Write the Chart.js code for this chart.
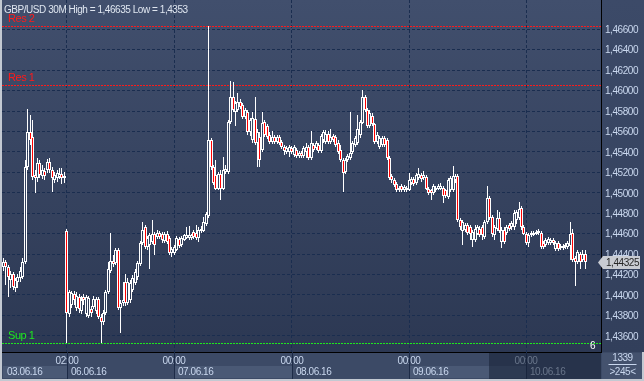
<!DOCTYPE html>
<html>
<head>
<meta charset="utf-8">
<script src="https://cdn.jsdelivr.net/npm/chart.js@4.4.1/dist/chart.umd.min.js"></script>
<style>
html,body{margin:0;padding:0;background:#3c4a66;overflow:hidden;}
canvas{display:block;}
</style>
</head>
<body>
<canvas id="c" width="644" height="381"></canvas>
<script>
// ---------------- DATA ----------------
const titleText = 'GBP/USD 30M High = 1,46635 Low = 1,4353';
const days      = ['03.06.16','06.06.16','07.06.16','08.06.16','09.06.16','10.06.16'];
const dayStart  = ['11:00','02:00','00:00','00:00','00:00','00:00'];
const dayCount  = [26, 44, 48, 48, 48, 25];
const emptySlots = 6;
const barsInfo = '1339';
const shiftInfo = '6';
const yTicks = [1.436,1.438,1.440,1.442,1.444,1.446,1.448,1.450,1.452,1.454,1.456,1.458,1.460,1.462,1.464,1.466];
const res2 = 1.46635, res1 = 1.4605, sup1 = 1.4353;
const lastPrice = 1.44325;

const open = [
1.4427,1.4432,1.4427,1.4415,1.4420,1.4407,1.4413,1.4417,1.4418,1.4432,1.4525,1.4559,1.4555,1.4517,1.4514,1.4529,1.4516,1.4521,1.4522,1.4530,1.4522,1.4512,1.4514,1.4515,1.4518,1.4516,
1.4463,1.4381,1.4390,1.4401,1.4387,1.4398,1.4384,1.4398,1.4381,1.4379,1.4386,1.4388,1.4384,1.4396,1.4378,1.4373,1.4382,1.4403,1.4423,1.4433,1.4431,1.4444,1.4387,1.4392,1.4413,1.4392,1.4395,1.4405,1.4412,1.4418,1.4430,1.4451,1.4466,1.4447,1.4449,1.4452,1.4460,1.4457,1.4461,1.4460,1.4453,1.4460,1.4456,1.4441,
1.4441,1.4444,1.4455,1.4449,1.4454,1.4456,1.4456,1.4456,1.4462,1.4461,1.4456,1.4463,1.4463,1.4469,1.4477,1.4552,1.4525,1.4517,1.4504,1.4518,1.4504,1.4520,1.4520,1.4569,1.4594,1.4579,1.4581,1.4589,1.4586,1.4574,1.4579,1.4559,1.4552,1.4572,1.4549,1.4555,1.4542,1.4569,1.4565,1.4557,1.4550,1.4555,1.4550,1.4555,1.4550,1.4545,1.4540,1.4540,
1.4544,1.4537,1.4542,1.4536,1.4539,1.4536,1.4540,1.4545,1.4534,1.4547,1.4544,1.4547,1.4541,1.4552,1.4550,1.4558,1.4550,1.4556,1.4555,1.4549,1.4542,1.4532,1.4520,1.4532,1.4534,1.4540,1.4547,1.4549,1.4557,1.4568,1.4594,1.4581,1.4565,1.4575,1.4567,1.4550,1.4545,1.4547,1.4554,1.4552,1.4534,1.4516,1.4512,1.4509,1.4503,1.4507,1.4503,1.4503,
1.4503,1.4510,1.4513,1.4510,1.4514,1.4517,1.4514,1.4515,1.4504,1.4503,1.4500,1.4503,1.4504,1.4504,1.4505,1.4503,1.4496,1.4503,1.4503,1.4512,1.4516,1.4473,1.4463,1.4464,1.4468,1.4466,1.4454,1.4454,1.4460,1.4465,1.4466,1.4457,1.4471,1.4495,1.4476,1.4459,1.4465,1.4475,1.4452,1.4464,1.4461,1.4468,1.4466,1.4466,1.4473,1.4475,1.4485,1.4466,
1.4460,1.4451,1.4459,1.4461,1.4460,1.4461,1.4461,1.4451,1.4449,1.4451,1.4451,1.4454,1.4445,1.4451,1.4446,1.4448,1.4447,1.4447,1.4448,1.4461,1.4436,1.4432,1.4440,1.4434,1.4440
];
const high = [
1.4436,1.4434,1.4429,1.4423,1.4422,1.4417,1.4420,1.4427,1.4436,1.4532,1.4582,1.4576,1.4571,1.4522,1.4534,1.4532,1.4527,1.4524,1.4533,1.4534,1.4525,1.4520,1.4522,1.4524,1.4524,1.4520,
1.4465,1.4405,1.4404,1.4404,1.4403,1.4401,1.4399,1.4401,1.4400,1.4399,1.4389,1.4399,1.4398,1.4398,1.4381,1.4385,1.4405,1.4432,1.4461,1.4439,1.4446,1.4446,1.4395,1.4413,1.4420,1.4417,1.4415,1.4419,1.4425,1.4433,1.4453,1.4471,1.4468,1.4458,1.4461,1.4473,1.4462,1.4464,1.4463,1.4462,1.4462,1.4463,1.4458,1.4447,
1.4449,1.4458,1.4457,1.4458,1.4460,1.4466,1.4467,1.4460,1.4464,1.4468,1.4466,1.4467,1.4476,1.4481,1.46635,1.4554,1.4527,1.4532,1.4520,1.4522,1.4535,1.4527,1.4571,1.4609,1.4608,1.4590,1.4598,1.4592,1.4588,1.4583,1.4581,1.4573,1.4579,1.4594,1.4562,1.4559,1.4579,1.4571,1.4567,1.4559,1.4560,1.4557,1.4557,1.4557,1.4552,1.4547,1.4546,1.4547,
1.4546,1.4547,1.4544,1.4541,1.4541,1.4546,1.4549,1.4547,1.4560,1.4549,1.4551,1.4549,1.4558,1.4561,1.4561,1.4560,1.4562,1.4558,1.4557,1.4552,1.4547,1.4534,1.4534,1.4538,1.4579,1.4551,1.4556,1.4576,1.4571,1.4601,1.4596,1.4583,1.4581,1.4578,1.4568,1.4559,1.4556,1.4556,1.4556,1.4554,1.4536,1.4518,1.4514,1.4511,1.4507,1.4509,1.4508,1.4507,
1.4519,1.4515,1.4515,1.4519,1.4524,1.4519,1.4521,1.4517,1.4506,1.4504,1.4509,1.4507,1.4509,1.4510,1.4507,1.4504,1.4514,1.4516,1.4526,1.4518,1.4518,1.4475,1.4473,1.4470,1.4470,1.4468,1.4464,1.4468,1.4468,1.4467,1.4468,1.4473,1.4507,1.4497,1.4478,1.4468,1.4483,1.4481,1.4466,1.4466,1.4468,1.4470,1.4472,1.4483,1.4483,1.4491,1.4487,1.4468,
1.4462,1.4461,1.4463,1.4463,1.4464,1.4465,1.4463,1.4453,1.4456,1.4457,1.4456,1.4456,1.4453,1.4453,1.4450,1.4450,1.4451,1.4453,1.4471,1.4465,1.4438,1.4444,1.4442,1.4444,1.4444
];
const low = [
1.4423,1.4410,1.4398,1.4407,1.4405,1.4403,1.4407,1.4413,1.4416,1.4430,1.4522,1.4547,1.4512,1.4500,1.4511,1.4514,1.4513,1.4512,1.4519,1.4519,1.4501,1.4510,1.4511,1.4513,1.4509,1.4510,
1.4353,1.4378,1.4387,1.4390,1.4384,1.4382,1.4381,1.4390,1.4378,1.4377,1.4378,1.4386,1.4381,1.4376,1.4353,1.4371,1.4380,1.4401,1.4421,1.4427,1.4429,1.4385,1.4363,1.4389,1.4389,1.4390,1.4392,1.4403,1.4410,1.4415,1.4428,1.4449,1.4445,1.4444,1.4425,1.4450,1.4439,1.4455,1.4455,1.4451,1.4451,1.4450,1.4439,1.4437,
1.4439,1.4443,1.4446,1.4447,1.4453,1.4455,1.4454,1.4454,1.4455,1.4454,1.4452,1.4461,1.4462,1.4467,1.4475,1.4522,1.4508,1.4503,1.4503,1.4493,1.4503,1.4518,1.4518,1.4567,1.4579,1.4565,1.4579,1.4582,1.4572,1.4572,1.4557,1.4556,1.4549,1.4547,1.4525,1.4525,1.4540,1.4555,1.4553,1.4548,1.4548,1.4548,1.4548,1.4547,1.4543,1.4537,1.4538,1.4535,
1.4538,1.4535,1.4534,1.4534,1.4534,1.4534,1.4534,1.4532,1.4532,1.4540,1.4542,1.4539,1.4539,1.4549,1.4548,1.4548,1.4548,1.4550,1.4545,1.4538,1.4530,1.4501,1.4518,1.4530,1.4532,1.4538,1.4545,1.4547,1.4554,1.4567,1.4579,1.4563,1.4563,1.4565,1.4548,1.4548,1.4543,1.4545,1.4545,1.4532,1.4512,1.4510,1.4506,1.4501,1.4501,1.4501,1.4501,1.4501,
1.4502,1.4508,1.4507,1.4508,1.4512,1.4511,1.4512,1.4503,1.4498,1.4493,1.4498,1.4501,1.4503,1.4503,1.4490,1.4495,1.4494,1.4501,1.4501,1.4510,1.4471,1.4464,1.4449,1.4462,1.4459,1.4454,1.4447,1.4452,1.4459,1.4457,1.4454,1.4455,1.4469,1.4473,1.4457,1.4454,1.4463,1.4461,1.4446,1.4450,1.4459,1.4463,1.4464,1.4464,1.4469,1.4473,1.4464,1.4459,
1.4449,1.4447,1.4457,1.4458,1.4459,1.4459,1.4445,1.4445,1.4447,1.4449,1.4449,1.4449,1.4443,1.4443,1.4444,1.4444,1.4445,1.4445,1.4434,1.4432,1.4409,1.4430,1.4425,1.4432,1.4425
];
const close = [
1.4432,1.4427,1.4418,1.4420,1.4408,1.4415,1.4418,1.4423,1.4432,1.4525,1.4559,1.4552,1.4515,1.4514,1.4529,1.4517,1.4522,1.4516,1.4530,1.4522,1.4514,1.4517,1.4519,1.4518,1.4514,1.4514,
1.4382,1.4403,1.4402,1.4395,1.4399,1.4386,1.4395,1.4395,1.4398,1.4397,1.4382,1.4396,1.4396,1.4378,1.4373,1.4382,1.4403,1.4425,1.4433,1.4430,1.4444,1.4387,1.4392,1.4395,1.4392,1.4413,1.4412,1.4417,1.4422,1.4431,1.4451,1.4464,1.4447,1.4456,1.4459,1.4460,1.4449,1.4461,1.4457,1.4454,1.4460,1.4452,1.4441,1.4445,
1.4447,1.4456,1.4448,1.4456,1.4459,1.4459,1.4459,1.4459,1.4457,1.4456,1.4464,1.4465,1.4471,1.4479,1.4552,1.4525,1.4510,1.4504,1.4518,1.4504,1.4522,1.4523,1.4569,1.4594,1.4581,1.4588,1.4589,1.4584,1.4574,1.4581,1.4559,1.4571,1.4573,1.4549,1.4559,1.4532,1.4568,1.4557,1.4555,1.4550,1.4555,1.4550,1.4555,1.4549,1.4545,1.4541,1.4544,1.4545,
1.4540,1.4545,1.4536,1.4539,1.4536,1.4544,1.4545,1.4534,1.4549,1.4542,1.4549,1.4541,1.4556,1.4559,1.4558,1.4550,1.4555,1.4552,1.4547,1.4540,1.4532,1.4519,1.4532,1.4536,1.4539,1.4549,1.4554,1.4562,1.4569,1.4594,1.4581,1.4565,1.4578,1.4567,1.4550,1.4557,1.4554,1.4554,1.4547,1.4534,1.4514,1.4512,1.4508,1.4503,1.4505,1.4503,1.4506,1.4505,
1.4512,1.4513,1.4509,1.4517,1.4518,1.4513,1.4517,1.4504,1.4500,1.4500,1.4507,1.4505,1.4507,1.4507,1.4497,1.4497,1.4512,1.4514,1.4516,1.4516,1.4473,1.4466,1.4471,1.4468,1.4461,1.4460,1.4462,1.4465,1.4466,1.4459,1.4459,1.4471,1.4495,1.4475,1.4460,1.4466,1.4475,1.4463,1.4464,1.4452,1.4466,1.4465,1.4470,1.4480,1.4481,1.4484,1.4466,1.4460,
1.4451,1.4459,1.4461,1.4459,1.4462,1.4463,1.4447,1.4447,1.4454,1.4455,1.4454,1.4451,1.4451,1.4445,1.4448,1.4446,1.4449,1.4451,1.4460,1.4434,1.4432,1.4442,1.4432,1.4440,1.44325
];

// ---------------- SETUP ----------------
const W = 644, H = 381;
const FONT = '"Liberation Sans", Arial, sans-serif';
const FS = 10;
const LS = '-0.45px';
const fnt = (sz) => sz + 'px ' + FONT;
const TXT = '#c9d7ee';
const GRID = '#1a2d4f';
const fmt = v => v.toFixed(5).replace('.', ',');

// category labels (one per 30-minute bar) + empty slots on the right
const labels = [];
const boundaries = [];
days.forEach((d, k) => {
  if (k > 0) boundaries.push(labels.length);
  let [h, m] = dayStart[k].split(':').map(Number);
  for (let j = 0; j < dayCount[k]; j++) {
    labels.push(d + ' ' + String(h).padStart(2, '0') + ':' + String(m).padStart(2, '0'));
    m += 30; if (m >= 60) { m -= 60; h++; }
  }
});
for (let j = 0; j < emptySlots; j++) labels.push('');

const upperWick = open.map((o, i) => [Math.max(o, close[i]), high[i]]);
const lowerWick = open.map((o, i) => [low[i], Math.min(o, close[i])]);
const bodies = open.map((o, i) => [o, close[i]]);
const bodyFill = open.map((o, i) => close[i] < o ? '#ff0000' : 'rgba(0,0,0,0)');

Chart.defaults.font.family = FONT;

const deco = {
  id: 'deco',
  beforeDraw(chart) {
    const { ctx, chartArea: a } = chart;
    ctx.save();
    ctx.fillStyle = '#3c4a66'; ctx.fillRect(0, 0, W, H);
    let g = ctx.createLinearGradient(0, a.top, 0, a.bottom);
    g.addColorStop(0, '#414f6d'); g.addColorStop(1, '#2c3853');
    ctx.fillStyle = g; ctx.fillRect(a.left, a.top, a.right - a.left, a.bottom - a.top);
    g = ctx.createLinearGradient(0, a.top, 0, a.bottom);
    g.addColorStop(0, '#3c4a68'); g.addColorStop(1, '#323f5b');
    ctx.fillStyle = g; ctx.fillRect(a.right, a.top, W - a.right, a.bottom - a.top);
    ctx.restore();
    // slightly condensed text, like the terminal's UI font
    if ('letterSpacing' in ctx) ctx.letterSpacing = LS;
  },
  beforeDatasetsDraw(chart) {
    const { ctx, chartArea: a, scales: { y } } = chart;
    ctx.save();
    ctx.font = fnt(FS + 1); ctx.textBaseline = 'alphabetic'; ctx.textAlign = 'left';
    [[res2, '#ff1a1a', 'Res 2'], [res1, '#ff1a1a', 'Res 1'], [sup1, '#1ee81e', 'Sup 1']].forEach(([v, col, lab]) => {
      const py = Math.round(y.getPixelForValue(v)) + 0.5;
      ctx.strokeStyle = col; ctx.lineWidth = 1; ctx.setLineDash([2, 1]);
      ctx.beginPath(); ctx.moveTo(a.left, py); ctx.lineTo(a.right, py); ctx.stroke();
      ctx.fillStyle = col; ctx.fillText(lab, a.left + 6, py - 4.5);
    });
    ctx.restore();
    // pixel-snap the library's bar elements for crisp candles
    chart.data.datasets.forEach((ds, di) => {
      chart.getDatasetMeta(di).data.forEach(el => {
        el.x = Math.floor(el.x) + 0.5;
        el.y = Math.round(el.y);
        el.base = Math.round(el.base);
      });
    });
  },
  afterDraw(chart) {
    const { ctx, chartArea: a, scales: { x, y } } = chart;
    const b = a.bottom;
    ctx.save();
    if ('letterSpacing' in ctx) ctx.letterSpacing = LS;
    // title
    ctx.font = fnt(FS); ctx.fillStyle = '#dfe6f0'; ctx.textBaseline = 'middle'; ctx.textAlign = 'left';
    ctx.fillText(titleText, 4, 10);
    // x axis area
    ctx.fillStyle = '#3c4a66'; ctx.fillRect(a.left, b + 1, a.right - a.left, H - b - 1);
    const bx = boundaries.map(i => Math.round(x.getPixelForValue(i)));
    const starts = [a.left + 1, ...bx], ends = [...bx, a.right];
    starts.forEach((s, k) => {
      if (k % 2 === 0) { ctx.fillStyle = '#4a5975'; ctx.fillRect(s, b + 14, ends[k] - s, 12); }
    });
    ctx.fillStyle = TXT; ctx.font = fnt(FS);
    starts.forEach((s, k) => { ctx.textAlign = 'left'; ctx.fillText(days[k], s + 4, b + 20.5); });
    boundaries.forEach((idx, k) => { ctx.textAlign = 'center'; ctx.fillText(labels[idx].split(' ')[1], bx[k], b + 9.5); });
    ctx.fillStyle = '#1d2b47';
    bx.forEach(p => ctx.fillRect(p, b, 1, H - b));
    // dimmed region
    const step = x.getPixelForValue(1) - x.getPixelForValue(0);
    const ox = Math.round(x.getPixelForValue(199) - step / 2);
    ctx.fillStyle = 'rgba(22,32,52,0.55)'; ctx.fillRect(ox, b + 1, a.right - ox, H - b - 1);
    // bottom-right info box
    ctx.fillStyle = '#44526e'; ctx.fillRect(a.right + 1, b + 1, W - a.right - 1, H - b - 1);
    const cx = (a.right + W) / 2;
    ctx.fillStyle = TXT; ctx.textAlign = 'center';
    ctx.fillText(barsInfo, cx, b + 6.5);
    ctx.fillRect(cx - 14, b + 12, 28, 1);
    ctx.fillText('>' + labels.length + '<', cx, b + 20.5);
    // shift indicator
    ctx.fillStyle = '#ffffff'; ctx.textAlign = 'right';
    ctx.fillText(shiftInfo, a.right - 6, b - 5.5);
    // last price tag
    const py = Math.round(y.getPixelForValue(lastPrice)) + 0.5;
    ctx.fillStyle = '#c9ccd2';
    ctx.beginPath();
    ctx.moveTo(a.right - 3, py); ctx.lineTo(a.right + 2, py - 6.5); ctx.lineTo(W - 4, py - 6.5);
    ctx.lineTo(W - 4, py + 6.5); ctx.lineTo(a.right + 2, py + 6.5); ctx.closePath(); ctx.fill();
    ctx.fillStyle = '#262626'; ctx.textAlign = 'left';
    ctx.fillText(fmt(lastPrice), a.right + 5, py + 0.5);
    // frame
    ctx.fillStyle = '#c3c9d2';
    ctx.fillRect(0, 0, 2, H);
    ctx.fillRect(0, H - 2, W, 2);
    ctx.fillRect(W - 2, b, 2, H - b);
    ctx.restore();
  }
};

new Chart(document.getElementById('c'), {
  type: 'bar',
  data: {
    labels,
    datasets: [
      { label: 'upper', data: upperWick, backgroundColor: '#ffffff', borderWidth: 0, barThickness: 1, grouped: false, order: 2, inflateAmount: 0 },
      { label: 'lower', data: lowerWick, backgroundColor: '#ffffff', borderWidth: 0, barThickness: 1, grouped: false, order: 2, inflateAmount: 0 },
      { label: 'body', data: bodies, backgroundColor: bodyFill, borderColor: '#ffffff', borderWidth: 1, borderSkipped: false, barThickness: 3, grouped: false, order: 1, inflateAmount: 0 }
    ]
  },
  options: {
    responsive: false,
    animation: false,
    devicePixelRatio: 1,
    layout: { padding: { left: 2, top: 0, right: 0, bottom: 0 } },
    plugins: { legend: { display: false }, tooltip: { enabled: false } },
    scales: {
      x: {
        type: 'category', offset: true,
        grid: { offset: false, color: GRID, lineWidth: 1, drawTicks: false },
        border: { display: true, color: '#000000', width: 1, dash: [3, 2] },
        ticks: { display: false },
        afterBuildTicks(s) { s.ticks = boundaries.map(v => ({ value: v })); },
        afterFit(s) { s.height = 29; s.paddingLeft = 0; s.paddingRight = 0; }
      },
      y: {
        position: 'right', min: 1.43441, max: 1.46887,
        grid: { color: GRID, lineWidth: 1, drawTicks: false },
        border: { display: true, color: '#000000', width: 1, dash: [3, 2] },
        ticks: { color: TXT, font: { family: FONT, size: FS }, padding: 4, labelOffset: 1, callback: v => fmt(v) },
        afterBuildTicks(s) { s.ticks = yTicks.map(v => ({ value: v })); },
        afterFit(s) { s.width = 43; s.paddingTop = 0; s.paddingBottom = 0; }
      }
    }
  },
  plugins: [deco]
});
</script>
</body>
</html>
